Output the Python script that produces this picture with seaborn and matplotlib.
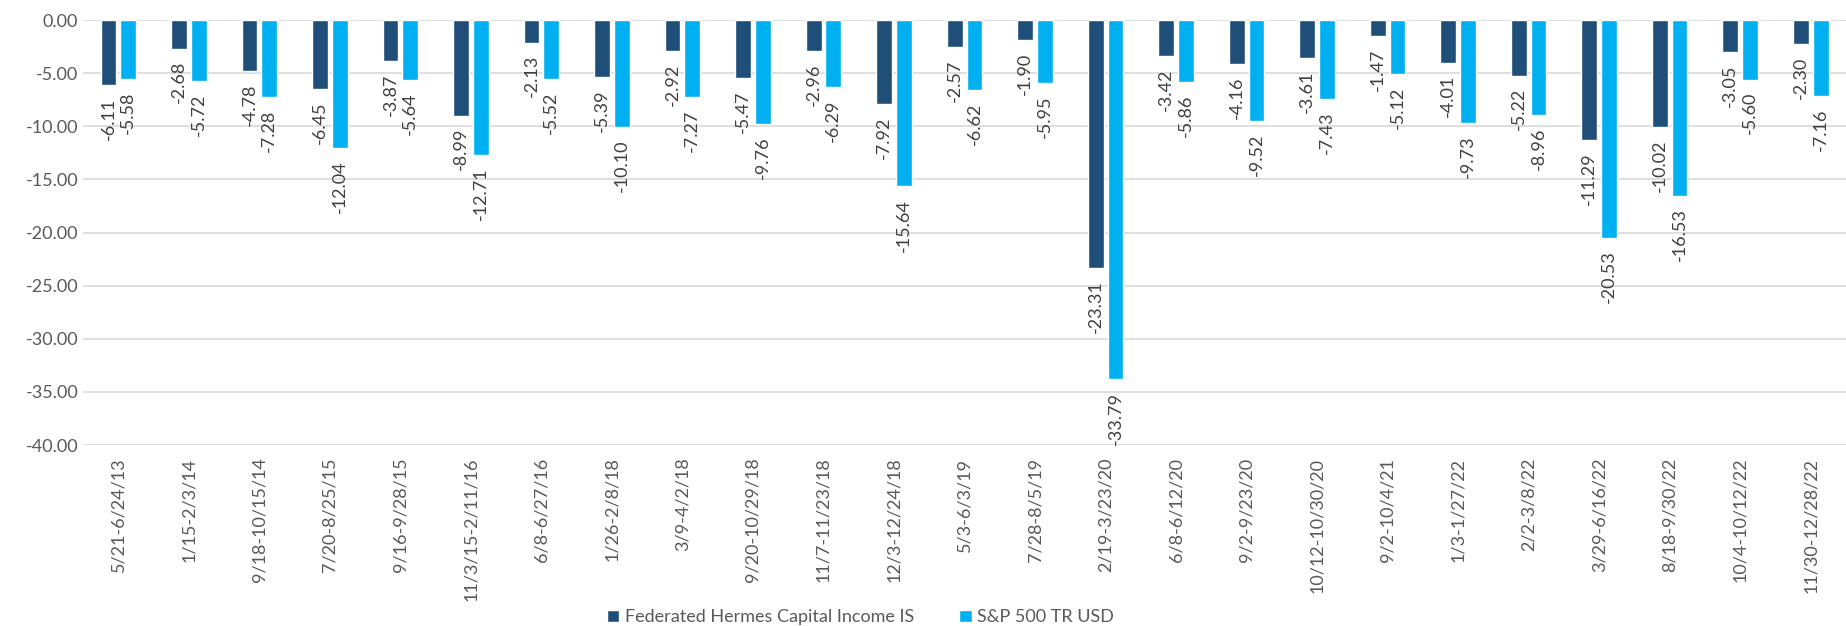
import pandas as pd
import matplotlib.pyplot as plt
import seaborn as sns

# Drawdown periods and returns (%)
periods = ['5/21-6/24/13', '1/15-2/3/14', '9/18-10/15/14', '7/20-8/25/15', '9/16-9/28/15',
           '11/3/15-2/11/16', '6/8-6/27/16', '1/26-2/8/18', '3/9-4/2/18', '9/20-10/29/18',
           '11/7-11/23/18', '12/3-12/24/18', '5/3-6/3/19', '7/28-8/5/19', '2/19-3/23/20',
           '6/8-6/12/20', '9/2-9/23/20', '10/12-10/30/20', '9/2-10/4/21', '1/3-1/27/22',
           '2/2-3/8/22', '3/29-6/16/22', '8/18-9/30/22', '10/4-10/12/22', '11/30-12/28/22']
fund = [-6.11, -2.68, -4.78, -6.45, -3.87, -8.99, -2.13, -5.39, -2.92, -5.47,
        -2.96, -7.92, -2.57, -1.90, -23.31, -3.42, -4.16, -3.61, -1.47, -4.01,
        -5.22, -11.29, -10.02, -3.05, -2.30]
index = [-5.58, -5.72, -7.28, -12.04, -5.64, -12.71, -5.52, -10.10, -7.27, -9.76,
         -6.29, -15.64, -6.62, -5.95, -33.79, -5.86, -9.52, -7.43, -5.12, -9.73,
         -8.96, -20.53, -16.53, -5.60, -7.16]
series = ['Federated Hermes Capital Income IS', 'S&P 500 TR USD']
colors = ['#1F4E79', '#00B0F0']

df = pd.DataFrame({
    'period': periods * 2,
    'value': fund + index,
    'series': [series[0]] * len(periods) + [series[1]] * len(periods),
})

sns.set_style('white')
plt.rcParams['font.family'] = ['Lato', 'DejaVu Sans']

fig = plt.figure(figsize=(18.46, 6.26), dpi=100)
ax = fig.add_axes([0.045, 0.289, 0.955, 0.679])

sns.barplot(data=df, x='period', y='value', hue='series', palette=colors,
            width=0.56, gap=0.2, saturation=1, errorbar=None, ax=ax)

# value labels under each bar
for cont in ax.containers:
    ax.bar_label(cont, fmt='%.2f', rotation=90, padding=9, fontsize=13, color='#404040')

ax.set_ylim(-40, 0)
ax.set_xlim(-0.5, len(periods) - 0.5)
ax.set_yticks(range(-40, 1, 5))
ax.set_yticklabels([f'{v:.2f}' for v in range(-40, 1, 5)])
ax.yaxis.grid(True, color='#D9D9D9', linewidth=1.2)
ax.set_axisbelow(True)
for s in ax.spines.values():
    s.set_visible(False)
ax.tick_params(axis='both', length=0, labelsize=13, labelcolor='#595959')
ax.tick_params(axis='x', pad=9)
plt.setp(ax.get_xticklabels(), rotation=90)
ax.set_xlabel('')
ax.set_ylabel('')

ax.get_legend().remove()
handles, labels = ax.get_legend_handles_labels()
fig.legend(handles, labels, loc='center', bbox_to_anchor=(0.466, 0.014), ncol=2,
           frameon=False, fontsize=13, labelcolor='#595959', handlelength=0.7,
           handleheight=0.7, handletextpad=0.3, columnspacing=2.5)

fig.savefig('out.png', dpi=100)
